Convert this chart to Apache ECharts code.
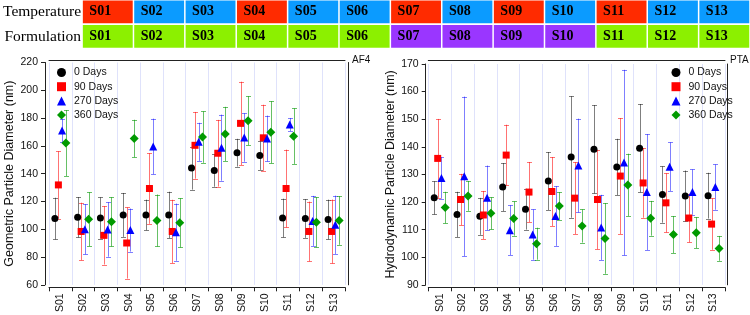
<!DOCTYPE html>
<html>
<head>
<meta charset="utf-8">
<script src="https://cdn.jsdelivr.net/npm/echarts@6.0.0/dist/echarts.min.js"></script>
<style>
  html, body { margin: 0; padding: 0; background: #fff; }
  #chart { width: 750px; height: 315px; }
</style>
</head>
<body>
<div id="chart"></div>
<script>
// sample names + the two header rows
const samples = ['S01', 'S02', 'S03', 'S04', 'S05', 'S06', 'S07', 'S08', 'S09', 'S10', 'S11', 'S12', 'S13'];
const headerRows = ['Temperature', 'Formulation'];
const temperatureGroup = ['hot', 'cold', 'cold', 'hot', 'cold', 'cold', 'hot', 'cold', 'hot', 'cold', 'hot', 'cold', 'cold'];
const formulationGroup = ['A', 'A', 'A', 'A', 'A', 'A', 'B', 'B', 'B', 'B', 'A', 'A', 'A'];

const dayNames = ['0 Days', '90 Days', '270 Days', '360 Days'];

// AF4 - geometric particle diameter (nm), mean and +/- error
const af4Day0 = [107.7, 108.6, 108.1, 110.3, 110.3, 110.3, 144.0, 142.3, 155.1, 153.0, 108.1, 107.7, 107.0];
const af4Day0Err = [15, 14.5, 14.8, 15.8, 11, 16.7, 15.5, 11.7, 10, 10.3, 13.9, 13.9, 14.3];
const af4Day90 = [131.9, 98.4, 95.6, 90.1, 129.3, 98.4, 160.4, 154.7, 176.2, 165.8, 129.3, 98.4, 98.4];
const af4Day90Err = [24.2, 20.7, 21, 25.6, 25.4, 22.8, 24, 24, 30, 23.8, 28, 21.5, 23];
const af4Day270 = [171.0, 100.0, 99.8, 99.4, 159.6, 97.9, 162.9, 158.7, 166.0, 165.3, 175.3, 106.0, 103.2];
const af4Day270Err = [8.5, 18, 19.6, 15.5, 20, 20.6, 13.7, 23.8, 17.4, 16.5, 4.7, 18, 21];
const af4Day360 = [162.0, 107.2, 105.3, 165.3, 106.3, 104.6, 166.3, 168.6, 178.1, 169.8, 167.0, 105.0, 106.3];
const af4Day360Err = [23.7, 19.4, 17.7, 13.5, 18.7, 17.7, 18.5, 19.5, 17.6, 22.3, 20, 18, 17.5];

// PTA - hydrodynamic particle diameter (nm)
const ptaDay0 = [121.5, 115.5, 114.8, 125.4, 117.4, 127.6, 136.3, 139.1, 132.7, 139.5, 122.7, 122.2, 122.3];
const ptaDay0Err = [6, 8.2, 6.7, 8.7, 7.4, 10.5, 22, 16, 10.2, 16, 10.2, 9.2, 8.3];
const ptaDay90 = [135.8, 120.9, 115.3, 137.0, 123.6, 123.8, 121.4, 120.9, 129.4, 126.9, 119.7, 114.2, 112.0];
const ptaDay90Err = [14.3, 9.3, 8.7, 11, 10.9, 12.5, 13, 18, 21, 12.6, 10.7, 8.8, 9.3];
const ptaDay270 = [128.7, 129.3, 121.5, 109.8, 108.2, 114.9, 133.2, 110.8, 134.3, 123.6, 132.8, 123.6, 125.4];
const ptaDay270Err = [7.5, 28.9, 11.7, 9, 9.1, 10.8, 17, 11.8, 33.6, 21, 8.8, 8.2, 8.2];
const ptaDay360 = [118.0, 122.2, 115.9, 114.0, 104.9, 118.6, 111.3, 106.8, 126.2, 114.1, 108.2, 108.9, 103.2];
const ptaDay360Err = [5.7, 5.4, 5.8, 6.2, 5.8, 5.0, 6, 12.8, 11.3, 6.3, 6.7, 5.6, 4.5];

const af4Ticks = [60, 80, 100, 120, 140, 160, 180, 200, 220];
const ptaTicks = [90, 100, 110, 120, 130, 140, 150, 160, 170];

const cellColors = { hot: '#ff2b00', cold: '#0b9bff', A: '#8cf000', B: '#9a36ff' };
const markerColors = ['#000000', '#ff0000', '#0000ff', '#009a00'];
const barColors = ['rgba(0,0,0,0.5)', 'rgba(255,0,0,0.55)', 'rgba(0,0,255,0.5)', 'rgba(0,150,0,0.6)'];
const symbols = ['circle', 'rect', 'triangle', 'diamond'];
const symbolSizes = [7, 7, 8, 9];
const offsets = [-5.5, -2, 1.7, 5.5];

const SANS = 'Liberation Sans';
const SERIF = 'Liberation Serif';

const chart = echarts.init(document.getElementById('chart'), null, { renderer: 'canvas' });

const tableData = [];
samples.forEach((s, i) => {
  tableData.push([i, 0, temperatureGroup[i]]);
  tableData.push([i, 1, formulationGroup[i]]);
});

function renderCell(params, api) {
  const c = api.coord([api.value(0), api.value(1)]);
  const size = api.size([1, 1]);
  const key = tableData[params.dataIndex][2];
  const x = c[0] - size[0] / 2 + 0.75;
  const y = c[1] - size[1] / 2 + 0.6;
  return {
    type: 'group',
    children: [
      { type: 'rect', shape: { x: x, y: y, width: size[0] - 1.5, height: size[1] - 1.8 },
        style: { fill: cellColors[key] } },
      { type: 'text', x: x + 6.5, y: c[1] - 0.5,
        style: { text: samples[api.value(0)], fill: '#000', font: 'bold 14px "' + SERIF + '"',
          verticalAlign: 'middle', align: 'left' } }
    ]
  };
}

function errorBars(dx) {
  return function (params, api) {
    const x = api.value(0);
    const lo = api.coord([x, api.value(1)]);
    const hi = api.coord([x, api.value(2)]);
    const px = Math.round(lo[0] + dx) + 0.5;
    const cap = 2.5;
    const style = { stroke: api.visual('color'), lineWidth: 1, fill: null };
    return {
      type: 'group',
      children: [
        { type: 'line', shape: { x1: px, y1: hi[1], x2: px, y2: lo[1] }, style: style },
        { type: 'line', shape: { x1: px - cap, y1: Math.round(hi[1]) + 0.5, x2: px + cap, y2: Math.round(hi[1]) + 0.5 }, style: style },
        { type: 'line', shape: { x1: px - cap, y1: Math.round(lo[1]) + 0.5, x2: px + cap, y2: Math.round(lo[1]) + 0.5 }, style: style }
      ]
    };
  };
}

function buildSeries(means, errs, xIdx, yIdx) {
  const out = [];
  means.forEach((m, k) => {
    out.push({
      name: dayNames[k] + ' err',
      type: 'custom',
      xAxisIndex: xIdx,
      yAxisIndex: yIdx,
      renderItem: errorBars(offsets[k]),
      itemStyle: { color: barColors[k] },
      encode: { x: 0, y: [1, 2] },
      data: m.map((v, i) => [i, v - errs[k][i], v + errs[k][i]]),
      z: 2,
      silent: true
    });
  });
  means.forEach((m, k) => {
    out.push({
      name: dayNames[k],
      type: 'scatter',
      xAxisIndex: xIdx,
      yAxisIndex: yIdx,
      symbol: symbols[k],
      symbolSize: symbolSizes[k],
      symbolOffset: [offsets[k], 0],
      itemStyle: { color: markerColors[k], opacity: 1 },
      data: m.map((v, i) => [i, v]),
      z: 5
    });
  });
  return out;
}

function bottomAxis(gridIndex, offset) {
  return {
    type: 'category', gridIndex: gridIndex, data: samples, position: 'bottom', offset: offset,
    boundaryGap: true,
    axisLine: { show: true, lineStyle: { color: '#222', width: 1 } },
    axisTick: { show: true, inside: false, length: 4, lineStyle: { color: '#222' } },
    axisLabel: { rotate: 90, margin: 6, color: '#111', fontFamily: SANS, fontSize: 10.5 },
    splitLine: { show: true, lineStyle: { color: '#dfe2fb', width: 1 } }
  };
}
function topFrame(gridIndex, offset) {
  return {
    type: 'category', gridIndex: gridIndex, data: samples, position: 'top', offset: offset,
    axisLine: { show: true, lineStyle: { color: '#222', width: 1 } },
    axisTick: { show: false }, axisLabel: { show: false }, splitLine: { show: false }
  };
}
function leftAxis(gridIndex, ticks, name, offset, nameGap) {
  return {
    type: 'value', gridIndex: gridIndex, position: 'left', offset: offset,
    min: ticks[0], max: ticks[ticks.length - 1], interval: ticks[1] - ticks[0],
    name: name, nameLocation: 'middle', nameGap: nameGap, nameRotate: 90,
    nameTextStyle: { fontFamily: SANS, fontSize: 12.5, color: '#111' },
    axisLine: { show: true, lineStyle: { color: '#222', width: 1 } },
    axisTick: { show: true, inside: false, length: 4, lineStyle: { color: '#222' } },
    axisLabel: { margin: 7, color: '#111', fontFamily: SANS, fontSize: 10.5 },
    splitLine: { show: false }
  };
}
function rightFrame(gridIndex, ticks, offset) {
  return {
    type: 'value', gridIndex: gridIndex, position: 'right', offset: offset,
    min: ticks[0], max: ticks[ticks.length - 1],
    axisLine: { show: true, lineStyle: { color: '#222', width: 1 } },
    axisTick: { show: false }, axisLabel: { show: false }, splitLine: { show: false }
  };
}
function legendAt(left) {
  return {
    orient: 'vertical', left: left, top: 62, itemWidth: 9, itemHeight: 9, itemGap: 3.2,
    data: dayNames, selectedMode: false,
    textStyle: { fontFamily: SANS, fontSize: 10.5, color: '#111', padding: [0, 0, 0, 3] }
  };
}

const option = {
  animation: false,
  backgroundColor: '#fff',
  grid: [
    { left: 80, right: 0, top: 0, height: 49 },
    { left: 49, width: 296, top: 62.5, bottom: 27.7 },
    { left: 428.3, width: 296.7, top: 64, bottom: 27.7 }
  ],
  xAxis: [
    { type: 'category', gridIndex: 0, data: samples, show: false },
    bottomAxis(1, 2.5), topFrame(1, 2.5),
    bottomAxis(2, 2.5), topFrame(2, 4)
  ],
  yAxis: [
    { type: 'category', gridIndex: 0, data: headerRows, inverse: true,
      axisLine: { show: false }, axisTick: { show: false },
      axisLabel: { margin: 1, color: '#000', fontFamily: SERIF, fontSize: 15.5 } },
    leftAxis(1, af4Ticks, 'Geometric Particle Diameter (nm)', 4, 29),
    rightFrame(1, af4Ticks, 3),
    leftAxis(2, ptaTicks, 'Hydrodynamic Particle Diameter (nm)', 2.6, 28),
    rightFrame(2, ptaTicks, 2.7)
  ],
  legend: [legendAt(52), legendAt(666.5)],
  graphic: [
    { type: 'text', left: 352, top: 55, style: { text: 'AF4', font: '10px "' + SANS + '"', fill: '#111' } },
    { type: 'text', left: 730, top: 55, style: { text: 'PTA', font: '10px "' + SANS + '"', fill: '#111' } }
  ],
  series: [
    { type: 'custom', xAxisIndex: 0, yAxisIndex: 0, renderItem: renderCell, data: tableData, silent: true }
  ]
    .concat(buildSeries([af4Day0, af4Day90, af4Day270, af4Day360],
      [af4Day0Err, af4Day90Err, af4Day270Err, af4Day360Err], 1, 1))
    .concat(buildSeries([ptaDay0, ptaDay90, ptaDay270, ptaDay360],
      [ptaDay0Err, ptaDay90Err, ptaDay270Err, ptaDay360Err], 3, 3))
};

chart.setOption(option);
</script>
</body>
</html>
